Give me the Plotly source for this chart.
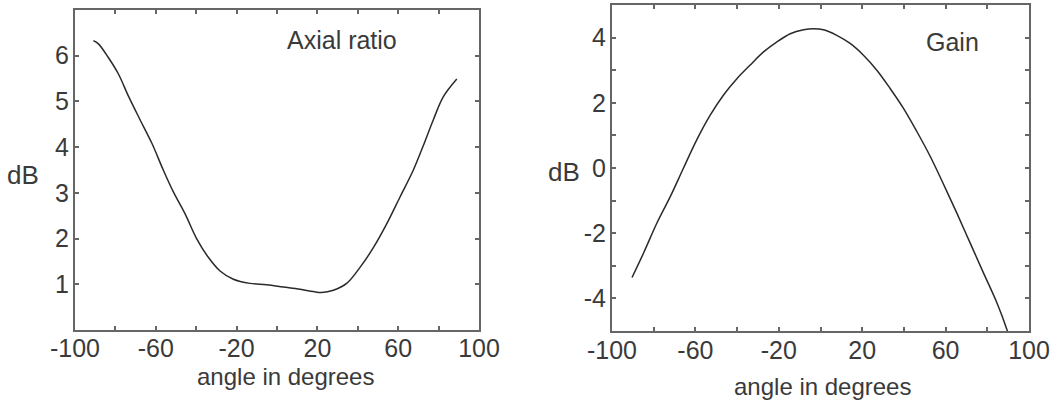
import plotly.graph_objects as go

# Axial ratio (left)
ar_angle = [-90.9, -88.4, -83.5, -78.5, -73.6, -67.8, -62.0, -56.3, -51.3, -45.5, -39.8, -34.0,
            -28.2, -21.6, -13.4, -5.1, 3.1, 11.4, 18.0, 22.1, 27.9, 34.5, 41.1, 47.7, 54.3,
            60.9, 67.5, 72.4, 77.4, 82.3, 89.0]
ar_db = [6.33, 6.26, 5.96, 5.60, 5.12, 4.60, 4.09, 3.50, 3.02, 2.54, 2.00, 1.59,
         1.29, 1.11, 1.02, 0.99, 0.94, 0.89, 0.84, 0.82, 0.87, 1.02, 1.37, 1.80, 2.32,
         2.91, 3.50, 4.03, 4.60, 5.10, 5.49]

# Gain (right)
gain_angle = [-90.4, -84.8, -78.4, -72.0, -65.7, -59.3, -52.9, -46.5, -40.1, -33.7, -27.3, -20.9,
              -14.5, -8.1, -3.4, 1.4, 7.8, 14.2, 20.6, 27.0, 33.4, 39.8, 46.2, 52.6, 59.0,
              65.3, 71.7, 78.1, 84.5, 89.3, 90.5]
gain_db = [-3.36, -2.60, -1.68, -0.87, 0.00, 0.87, 1.62, 2.24, 2.74, 3.16, 3.56, 3.87,
           4.12, 4.24, 4.27, 4.24, 4.07, 3.82, 3.46, 3.00, 2.44, 1.83, 1.12, 0.36, -0.50,
           -1.37, -2.29, -3.21, -4.12, -4.94, -5.2]

x_ticks = [-100, -60, -20, 20, 60, 100]
x_labels = ["-100", "-60", "-20", "20", "60", "100"]
x_minor = [-80, -40, 0, 40, 80]
ar_yticks = [1, 2, 3, 4, 5, 6]
ar_ylabels = ["1", "2", "3", "4", "5", "6"]
gain_yticks = [-4, -2, 0, 2, 4]
gain_ylabels = ["-4", "-2", "0", "2", "4"]
gain_yminor = [-3, -1, 1, 3]

FONT = "Liberation Sans, Arial, sans-serif"
TXT = "#3a3a3a"
LINE = "#666666"
FS = 25

W, H = 1058, 400

def px(x):
    return x / W

def py(y):
    return 1 - y / H

fig = go.Figure()
fig.add_trace(go.Scatter(x=ar_angle, y=ar_db, mode="lines",
                         line=dict(color="#2a2a2a", width=1.5, shape="spline", smoothing=1.0),
                         xaxis="x", yaxis="y", showlegend=False))
fig.add_trace(go.Scatter(x=gain_angle, y=gain_db, mode="lines",
                         line=dict(color="#2a2a2a", width=1.5, shape="spline", smoothing=1.0),
                         xaxis="x2", yaxis="y2", showlegend=False))

common_ax = dict(showline=True, linecolor=LINE, linewidth=2, mirror="ticks", ticks="inside",
                 ticklen=4, tickwidth=2, tickcolor=LINE, showgrid=False, zeroline=False,
                 automargin=False, tickfont=dict(family=FONT, size=FS, color=TXT))
minor_ax = dict(ticks="inside", ticklen=4, tickcolor=LINE, tickwidth=2)

fig.update_layout(
    width=W, height=H, margin=dict(l=0, r=0, t=0, b=0),
    paper_bgcolor="white", plot_bgcolor="white",
    xaxis=dict(domain=[px(75), px(479)], range=[-100, 100], tickvals=x_ticks, ticktext=x_labels,
               anchor="y", minor=dict(tickvals=x_minor, **minor_ax), ticklabelstandoff=-5, **common_ax),
    yaxis=dict(domain=[py(330), py(10)], range=[0, 7], tickvals=ar_yticks, ticktext=ar_ylabels,
               anchor="x", ticklabelstandoff=-1, **common_ax),
    xaxis2=dict(domain=[px(612), px(1029)], range=[-100, 100], tickvals=x_ticks, ticktext=x_labels,
                anchor="y2", minor=dict(tickvals=x_minor, **minor_ax), ticklabelstandoff=-4, **common_ax),
    yaxis2=dict(domain=[py(331), py(5)], range=[-5, 5], tickvals=gain_yticks, ticktext=gain_ylabels,
                anchor="x2", minor=dict(tickvals=gain_yminor, **minor_ax), ticklabelstandoff=-1, **common_ax),
)

def ann(text, x, y, size=FS):
    fig.add_annotation(text=text, x=px(x), y=py(y), xref="paper", yref="paper",
                       showarrow=False, xanchor="center", yanchor="middle",
                       font=dict(family=FONT, size=size, color=TXT))

ann("Axial ratio", 342, 40, 25)
ann("Gain", 952, 42, 25)
ann("dB", 23, 175, 26)
ann("dB", 564, 172, 26)
ann("angle in degrees", 285, 376, 24)
ann("angle in degrees", 822, 386, 24)

fig.write_html("out.html", config={"displayModeBar": False},
               post_script="document.body.style.margin='0';document.body.style.overflow='hidden';")
